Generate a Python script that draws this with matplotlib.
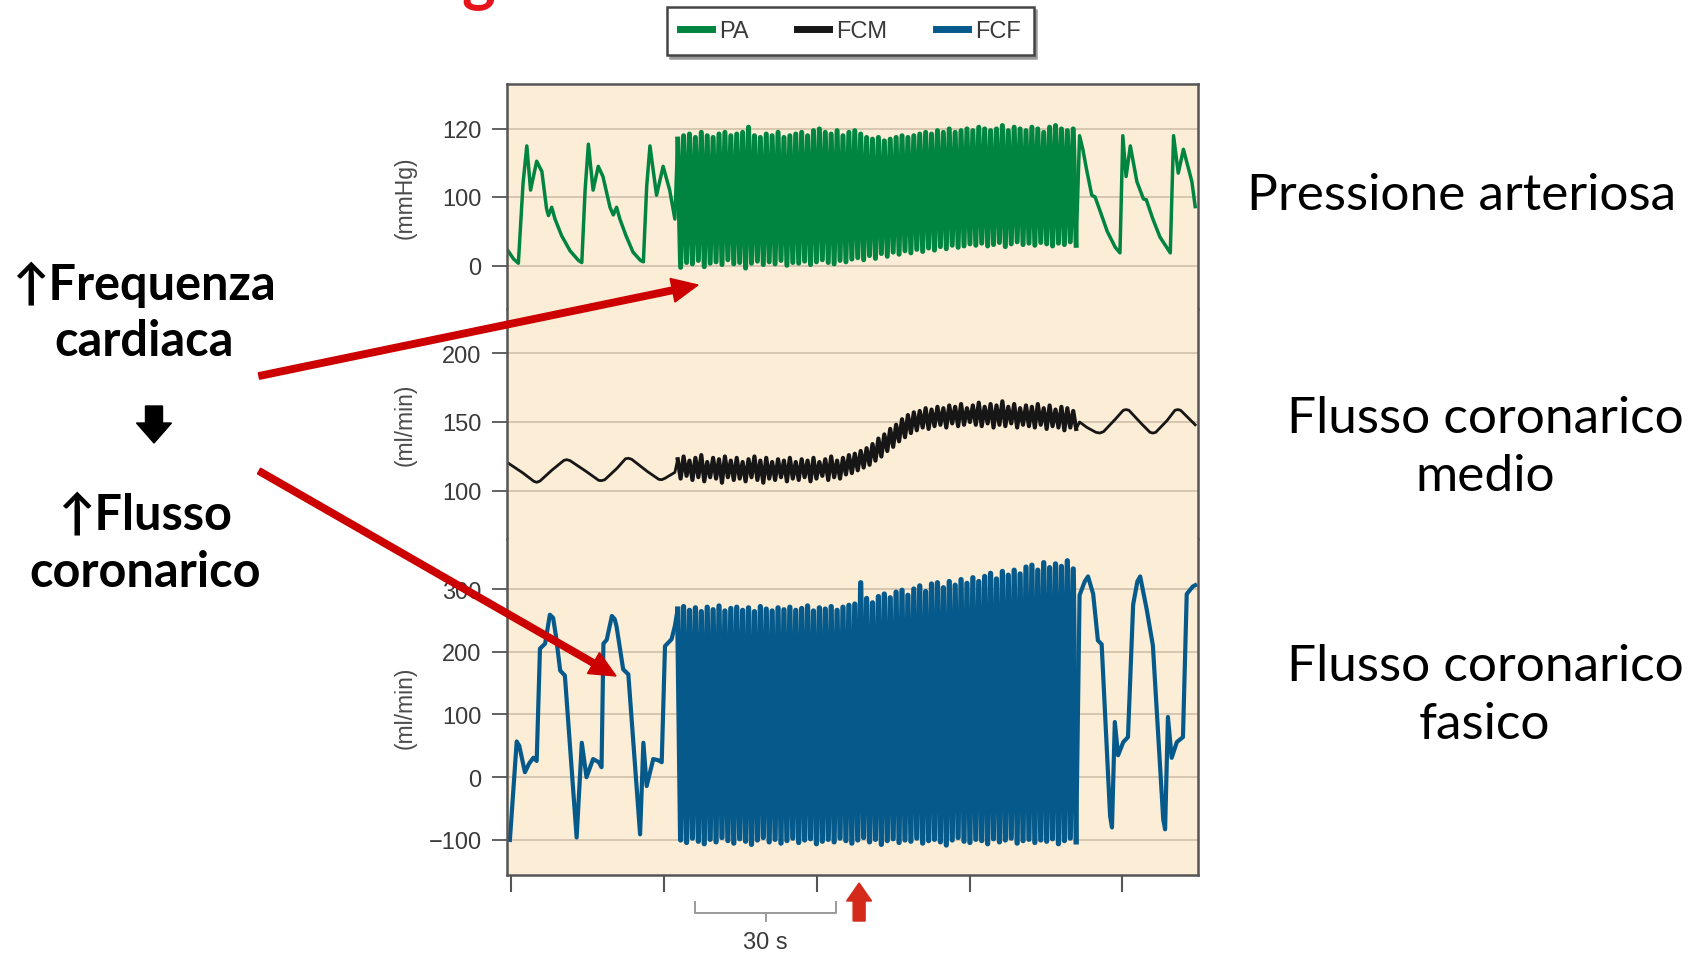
import numpy as np
import matplotlib
matplotlib.use("Agg")
import matplotlib.pyplot as plt
from matplotlib.patches import FancyArrow
from matplotlib.lines import Line2D
from matplotlib.transforms import IdentityTransform, blended_transform_factory

# ---------------- data (time in seconds) ----------------
# slow beats before / after pacing: (time, value)
PA_PRE_T = [0.3, 1.5, 2.5, 3.5, 4.3, 5.1, 6.4, 7.5, 8.5, 8.9, 9.6, 10.3, 11.7, 13.5, 15.3, 16.0,
            16.7, 17.4, 18.4, 19.5, 20.5, 22.0, 22.7, 23.4, 24.1, 25.4, 26.9, 28.5, 29.1,
            29.8, 30.5, 31.9, 33.3, 34.7, 35.8]
PA_PRE_V = [22, 10, 4, 104, 115, 102, 110.5, 107.5, 83, 73, 85, 68, 44, 22, 8, 5,
            102, 115.5, 102, 109, 106, 85, 74, 85, 68, 44, 20, 8, 6,
            103, 115, 100.5, 109, 102, 68]
PA_POST_T = [121.9, 122.6, 123.4, 124.5, 125.2, 126.3, 127.8, 129.5, 130.5, 131.1, 131.8, 132.7,
             134.1, 135.5, 136.1, 137.5, 139.0, 141.2, 141.9, 142.9, 144.0, 145.8, 146.5]
PA_POST_V = [118, 114, 108, 100.5, 100, 79, 50, 27, 19, 118, 106, 115,
             104.5, 97, 96, 68, 42, 19, 118, 107, 114, 104.5, 86]

FCM_PRE_T = [0.3, 3.5, 5.8, 6.4, 7.1, 9.6, 12.2, 12.8, 13.5, 17.0, 19.6, 20.2, 20.9, 23.5, 25.3,
             25.9, 26.6, 30.0, 32.4, 33.0, 33.7, 35.8]
FCM_PRE_V = [120.3, 113, 107, 106.3, 107.2, 115, 122.2, 122.7, 122, 114, 107.7, 107.5, 108.2, 116.5,
             123.4, 123.7, 123, 114, 108.4, 108.2, 109.2, 113.5]
FCM_POST_T = [121.9, 123.5, 125.4, 126.2, 127.0, 129.5, 131.2, 131.8, 132.4, 135.0, 136.9, 137.5,
              138.1, 140.5, 142.2, 142.8, 143.4, 146.5]
FCM_POST_V = [150, 146, 142.5, 142, 143, 152, 158.5, 159, 158.5, 149, 142.5, 142,
              142.5, 151, 158.5, 159, 158.5, 148]

FCF_PRE_T = [0.7, 2.15, 2.7, 3.9, 4.8, 5.7, 6.4, 7.1, 8.2, 9.2, 9.9, 10.5, 11.4, 12.4, 14.9,
             16.0, 17.0, 18.4, 19.6, 20.2, 20.6, 21.3, 22.4, 23.0, 23.4, 24.8, 25.9, 28.4,
             29.1, 29.8, 31.2, 32.3, 33.0, 33.7, 35.1, 35.8]
FCF_PRE_V = [-100, 57, 50, 8, 22, 31, 26, 205, 213, 259, 254, 225, 170, 162, -96,
             55, 0, 29, 24, 16, 213, 219, 257, 252, 240, 172, 164, -91,
             55, -14, 29, 27, 24, 209, 220, 241]
FCF_POST_T = [121.9, 123.0, 123.7, 124.8, 125.8, 126.6, 128.4, 128.8, 129.4, 130.1, 131.2, 132.2,
              133.3, 134.2, 134.8, 136.2, 137.5, 139.7, 140.1, 140.7, 141.5, 142.6, 143.9,
              144.7, 146.0, 146.5]
FCF_POST_V = [290, 312, 320, 292, 218, 212, -62, -80, 88, 35, 56, 64,
              275, 312, 320, 267, 210, -67, -83, 96, 31, 56, 64,
              292, 304, 306]

# paced period: one peak / one trough per beat
PACE_START = 36.4
PACE_PERIOD = 1.256
PA_FAST_HI = [117, 118, 118.5, 117.5, 119, 118, 117.5, 118.5, 119, 118,
              118.5, 119, 120.5, 118, 117.5, 118.5, 118, 119, 117.5, 118,
              118.5, 119, 118, 119.5, 120, 119, 118.5, 119.5, 118, 119,
              119.5, 118.5, 117.5, 117, 117.5, 116.5, 117, 117.5, 118, 117.5,
              118, 118.5, 119, 118.5, 119.5, 119, 120, 119, 119.5, 120,
              119.5, 120.5, 120, 119.5, 120, 121, 119.5, 120.5, 120, 119.5,
              120.5, 120, 119, 120.5, 121, 120, 119.5, 120]
PA_FAST_LO = [-2, 5, 3, 8, -1, 4, 6, 2, 9, 3,
              5, -3, 4, 7, 2, 6, 3, 8, 1, 5,
              4, 7, 2, 6, 9, 5, 3, 8, 6, 10,
              12, 9, 15, 11, 18, 14, 20, 17, 22, 19,
              24, 21, 26, 23, 28, 25, 30, 27, 29, 32,
              30, 33, 29, 31, 34, 28, 32, 35, 31, 33,
              30, 34, 32, 29, 33, 31, 35, 30]
FCM_FAST_HI = [123, 125, 122, 124, 126, 121, 124, 123, 125, 122,
               124, 121, 123, 125, 122, 124, 121, 123, 122, 124,
               121, 123, 122, 124, 121, 123, 125, 122, 124, 126,
               127, 129, 131, 134, 138, 141, 145, 148, 152, 155,
               157, 158, 160, 159, 161, 160, 162, 161, 163, 160,
               162, 164, 161, 163, 162, 165, 161, 163, 160, 162,
               161, 163, 160, 162, 159, 161, 160, 158]
FCM_FAST_LO = [109, 111, 108, 110, 107, 110, 109, 106, 110, 108,
               109, 107, 110, 108, 106, 109, 108, 110, 107, 109,
               108, 110, 107, 109, 111, 108, 110, 109, 112, 113,
               115, 117, 119, 122, 125, 129, 132, 136, 139, 142,
               144, 146, 145, 147, 148, 146, 149, 147, 148, 150,
               148, 147, 149, 146, 148, 147, 149, 146, 148, 147,
               146, 148, 145, 147, 146, 144, 146, 145]
FCF_FAST_HI = [268, 272, 266, 270, 264, 271, 267, 273, 265, 269,
               271, 266, 270, 264, 272, 268, 265, 270, 267, 271,
               266, 269, 273, 265, 270, 268, 272, 266, 271, 274,
               276, 310, 285, 278, 288, 292, 286, 295, 298, 290,
               300, 305, 296, 308, 310, 302, 312, 306, 315, 309,
               318, 312, 320, 325, 316, 328, 322, 330, 324, 335,
               338, 330, 342, 334, 340, 336, 345, 332]
FCF_FAST_LO = [-100, -104, -97, -102, -106, -99, -103, -96, -101, -105,
               -98, -102, -107, -100, -96, -103, -99, -105, -101, -97,
               -104, -100, -98, -106, -102, -99, -103, -97, -101, -105,
               -100, -96, -103, -99, -107, -101, -98, -104, -100, -102,
               -97, -105, -101, -99, -103, -108, -100, -96, -102, -104,
               -99, -101, -106, -98, -103, -100, -97, -105, -101, -99,
               -104, -100, -102, -98, -106, -101, -97, -103]

SERIES = ["PA", "FCM", "FCF"]
COLORS = {"PA": "#008540", "FCM": "#161616", "FCF": "#065a8b"}

X_TICKS = [1, 33.5, 66, 98.5, 131]
SCALE_BAR = (40.1, 70.1)      # 30 s
MARK_T = 75.0                 # red arrow


def paced(hi, lo):
    t, v = [], []
    for i, (h, l) in enumerate(zip(hi, lo)):
        t += [PACE_START + i * PACE_PERIOD, PACE_START + (i + 0.5) * PACE_PERIOD]
        v += [h, l]
    return t, v


# PA axis is compressed between 0 and 100 (as in the original figure)
def pa_fwd(v):
    v = np.asarray(v, dtype=float)
    return np.where(v <= 100, v * 0.69, 69 + (v - 100) * 3.4)


def pa_inv(u):
    u = np.asarray(u, dtype=float)
    return np.where(u <= 69, u / 0.69, 100 + (u - 69) / 3.4)


W, H = 1690, 954
fig = plt.figure(figsize=(W / 100, H / 100), dpi=100)
fig.patch.set_facecolor("white")

BG = "#fcedd6"
GRID = "#cdbca6"
FRAME = "#555555"
TXT = "#3a3a3a"
LBL_FONT = ["Liberation Sans", "DejaVu Sans"]

left = 506.6 / W
width = 691.4 / W
# (top px, bottom px) of each panel
panels = {"PA": (85, 310), "FCM": (310, 540), "FCF": (540, 876)}
ylims = {"PA": (-62.3, 133.2), "FCM": (65.2, 231.9), "FCF": (-155.8, 379.7)}
yticks = {"PA": [0, 100, 120], "FCM": [100, 150, 200], "FCF": [-100, 0, 100, 200, 300]}
ylabels = {"PA": "(mmHg)", "FCM": "(ml/min)", "FCF": "(ml/min)"}
slow = {
    "PA": (PA_PRE_T, PA_PRE_V, PA_POST_T, PA_POST_V),
    "FCM": (FCM_PRE_T, FCM_PRE_V, FCM_POST_T, FCM_POST_V),
    "FCF": (FCF_PRE_T, FCF_PRE_V, FCF_POST_T, FCF_POST_V),
}
fast = {
    "PA": paced(PA_FAST_HI, PA_FAST_LO),
    "FCM": paced(FCM_FAST_HI, FCM_FAST_LO),
    "FCF": paced(FCF_FAST_HI, FCF_FAST_LO),
}
lw_slow = {"PA": 2.5, "FCM": 2.0, "FCF": 3.0}
lw_fast = {"PA": 3.6, "FCM": 3.0, "FCF": 3.8}

axes = {}
for name in SERIES:
    top, bot = panels[name]
    ax = fig.add_axes([left, (H - bot) / H, width, (bot - top) / H])
    ax.set_facecolor(BG)
    if name == "PA":
        ax.set_yscale("function", functions=(pa_fwd, pa_inv))
    pre_t, pre_v, post_t, post_v = slow[name]
    ft, fv = fast[name]
    c = COLORS[name]
    # slow beats (joined to the paced part)
    ax.plot(pre_t + ft[:1], pre_v + fv[:1], color=c, lw=lw_slow[name])
    ax.plot(ft[-1:] + post_t, fv[-1:] + post_v, color=c, lw=lw_slow[name])
    # paced beats
    ax.plot(ft, fv, color=c, lw=lw_fast[name])
    ax.set_xlim(0, 147.1)
    ax.set_ylim(*ylims[name])
    ax.set_yticks(yticks[name])
    ax.set_yticklabels([str(k).replace("-", "\u2212") for k in yticks[name]])
    ax.yaxis.grid(True, color=GRID, lw=1.1)
    ax.set_axisbelow(True)
    ax.tick_params(axis="y", direction="out", length=11, width=1.3, color=FRAME,
                   labelcolor=TXT, labelsize=17, pad=7)
    for lab in ax.get_yticklabels():
        lab.set_family(LBL_FONT)
    ax.set_ylabel(ylabels[name], fontsize=16.5, color="#4a4a4a", family=LBL_FONT)
    ax.yaxis.set_label_coords(-0.13, 0.5)
    for s in ax.spines.values():
        s.set_color(FRAME)
        s.set_linewidth(1.8)
    ax.spines["top"].set_visible(name == "PA")
    ax.spines["bottom"].set_visible(name == "FCF")
    if name == "FCF":
        ax.set_xticks(X_TICKS)
        ax.tick_params(axis="x", direction="out", length=12, width=1.5, color=FRAME,
                       labelbottom=False)
    else:
        ax.set_xticks([])
    axes[name] = ax

axb = axes["FCF"]
px = IdentityTransform()
tr = blended_transform_factory(axb.transData, px)

# scale bar 30 s
sb0, sb1 = SCALE_BAR
ybar = H - 914
axb.plot([sb0, sb0, sb1, sb1], [ybar + 11, ybar, ybar, ybar + 11], transform=tr,
         color="#9a9a9a", lw=1.4, clip_on=False)
axb.plot([(sb0 + sb1) / 2] * 2, [ybar, ybar - 8], transform=tr, color="#9a9a9a",
         lw=1.4, clip_on=False)
axb.text((sb0 + sb1) / 2, H - 943, "30 s", transform=tr, ha="center", va="center",
         fontsize=17, color=TXT, family=LBL_FONT)

# red marker arrow under the axis
xm = axb.transData.transform((MARK_T, 0))[0]
fig.add_artist(FancyArrow(xm, H - 922, 0, 38, width=12, head_width=25, head_length=18,
                          length_includes_head=True, color="#d42a1c", transform=px))

# legend
handles = [Line2D([], [], color=COLORS[n], lw=5) for n in SERIES]
leg = fig.legend(handles, SERIES, ncol=3, loc="center",
                 bbox_to_anchor=(850.5 / W, 1 - 32 / H),
                 frameon=True, fancybox=False, edgecolor="#444444", framealpha=1,
                 handlelength=1.35, handletextpad=0.3, columnspacing=2.05, borderpad=0.55,
                 prop={"family": LBL_FONT, "size": 17}, labelcolor=TXT,
                 shadow={"color": "#9a9a9a", "alpha": 1.0, "ox": 2, "oy": -2})
leg.get_frame().set_linewidth(1.8)

# annotation arrows
red = "#cc0000"
fig.add_artist(FancyArrow(259, H - 377, 698 - 259, -(286 - 377), width=6.5, head_width=24,
                          head_length=26, length_includes_head=True, color=red, transform=px))
fig.add_artist(FancyArrow(259, H - 472, 616 - 259, -(677 - 472), width=6.5, head_width=24,
                          head_length=26, length_includes_head=True, color=red, transform=px))
fig.add_artist(FancyArrow(154, H - 407, 0, -37, width=17, head_width=35, head_length=20,
                          length_includes_head=True, color="black", transform=px))

# texts
ANN = ["Lato", "DejaVu Sans"]
for s, x, y in [("\u2191Frequenza", 144, 300), ("cardiaca", 144, 356),
                ("\u2191Flusso", 145, 529), ("coronarico", 145, 587)]:
    fig.text(x / W, 1 - y / H, s, ha="center", va="baseline", fontsize=35,
             fontweight="bold", family=ANN)
for s, x, y in [("Pressione arteriosa", 1462, 210), ("Flusso coronarico", 1485, 433),
                ("medio", 1485, 491), ("Flusso coronarico", 1485, 681), ("fasico", 1485, 739)]:
    fig.text(x / W, 1 - y / H, s, ha="center", va="baseline", fontsize=37, family=ANN)

# cut-off red title descender at the top edge
fig.text(478 / W, 1 + 1 / H, "g", ha="center", va="baseline", fontsize=46,
         fontweight="bold", color="#e8141c", family=ANN)

fig.savefig("out.png", dpi=100)
